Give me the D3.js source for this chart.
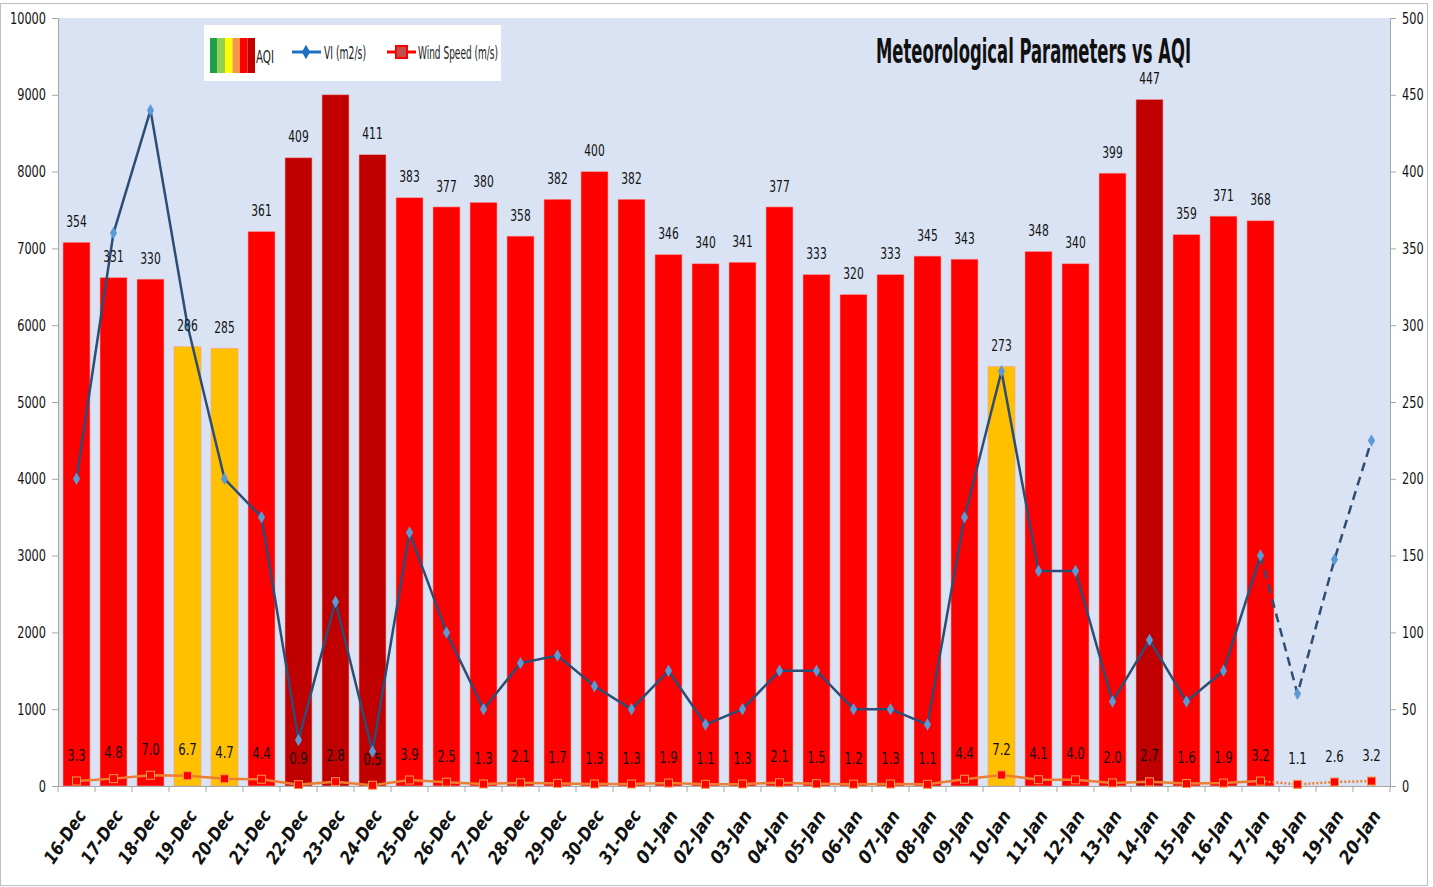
<!DOCTYPE html>
<html>
<head>
<meta charset="utf-8">
<script src="https://cdn.jsdelivr.net/npm/d3@7"></script>
<style>
  body { margin: 0; background: #fff; }
  svg text { font-family: "Liberation Sans Narrow", "DejaVu Sans Condensed", "Open Sans", sans-serif; }
</style>
</head>
<body>
<div id="chart"></div>
<script>
// dates on the x axis
var dates = ["16-Dec","17-Dec","18-Dec","19-Dec","20-Dec","21-Dec","22-Dec","23-Dec","24-Dec","25-Dec",
  "26-Dec","27-Dec","28-Dec","29-Dec","30-Dec","31-Dec","01-Jan","02-Jan","03-Jan","04-Jan",
  "05-Jan","06-Jan","07-Jan","08-Jan","09-Jan","10-Jan","11-Jan","12-Jan","13-Jan","14-Jan",
  "15-Jan","16-Jan","17-Jan","18-Jan","19-Jan","20-Jan"];

// AQI (right axis), only up to 17-Jan
var aqi = [354,331,330,286,285,361,409,450,411,383,377,380,358,382,400,382,346,340,341,377,
  333,320,333,345,343,273,348,340,399,447,359,371,368];

// ventilation index (left axis)
var vi = [4000,7200,8800,6000,4000,3500,600,2400,450,3300,2000,1000,1600,1700,1300,1000,1500,800,1000,1500,
  1500,1000,1000,800,3500,5400,2800,2800,1100,1900,1100,1500,3000,1200,2950,4500];

// wind speed m/s (right axis)
var wind = [3.3,4.8,7.0,6.7,4.7,4.4,0.9,2.8,0.5,3.9,2.5,1.3,2.1,1.7,1.3,1.3,1.9,1.1,1.3,2.1,
  1.5,1.2,1.3,1.1,4.4,7.2,4.1,4.0,2.0,2.7,1.6,1.9,3.2,1.1,2.6,3.2];

var leftTicks = d3.range(0, 10001, 1000);
var rightTicks = d3.range(0, 501, 50);
var lastObserved = 32; // index of 17-Jan, after that forecast (dashed)

var legendColors = ["#1FA046", "#92D050", "#FFFF00", "#F79646", "#FF0000", "#C00000"];

(function () {
  var W = 1433, H = 887;
  var pL = 58, pR = 1390, pT = 18, pB = 786;

  var svg = d3.select("#chart").append("svg")
    .attr("width", W).attr("height", H);

  // squeeze text to look like a narrow font
  function narrow(sel, perChar) {
    sel.each(function() {
      var t = d3.select(this);
      t.attr("textLength", t.text().length * perChar).attr("lengthAdjust", "spacingAndGlyphs");
    });
  }

  svg.append("rect").attr("x", 0.5).attr("y", 3.5).attr("width", 1427).attr("height", 882)
    .attr("fill", "#fff").attr("stroke", "#BFBFBF");

  svg.append("rect").attr("x", pL).attr("y", pT).attr("width", pR - pL).attr("height", pB - pT)
    .attr("fill", "#DAE3F3");

  var x = d3.scaleBand().domain(dates).range([pL, pR]).paddingInner(0.27).paddingOuter(0.135);
  var step = (pR - pL) / dates.length;
  var yL = d3.scaleLinear().domain([0, 10000]).range([pB, pT]);
  var yR = d3.scaleLinear().domain([0, 500]).range([pB, pT]);
  function cx(d) { return x(d) + x.bandwidth() / 2; }

  function aqiColor(v) {
    if (v > 400) return "#C00000";
    if (v > 300) return "#FF0000";
    if (v > 200) return "#FFC000";
    return "#92D050";
  }

  // bars
  svg.selectAll(".bar").data(aqi).enter().append("rect")
    .attr("x", function(d, i) { return x(dates[i]); })
    .attr("y", function(d) { return yR(d); })
    .attr("width", x.bandwidth())
    .attr("height", function(d) { return pB - yR(d); })
    .attr("fill", function(d) { return aqiColor(d); })
    .attr("stroke", "#F4A0A0").attr("stroke-width", 0.6);

  // axes
  var axL = svg.append("g").attr("transform", "translate(" + pL + ",0)")
    .call(d3.axisLeft(yL).tickValues(leftTicks).tickSize(6).tickPadding(6).tickFormat(d3.format("d")));
  var axR = svg.append("g").attr("transform", "translate(" + pR + ",0)")
    .call(d3.axisRight(yR).tickValues(rightTicks).tickSize(6).tickPadding(6).tickFormat(d3.format("d")));
  [axL, axR].forEach(function(a) {
    a.select(".domain").attr("stroke", "#A6A6A6");
    a.selectAll(".tick line").attr("stroke", "#A6A6A6");
    a.selectAll("text").attr("font-size", 16).attr("fill", "#111")
      .style("font-family", "\"Liberation Sans Narrow\", \"DejaVu Sans Condensed\", sans-serif")
      .call(narrow, 7.2);
  });

  var axB = svg.append("g").attr("transform", "translate(0," + pB + ")")
    .call(d3.axisBottom(x).tickSize(0).tickFormat(""));
  axB.select(".domain").attr("stroke", "#A6A6A6");
  svg.selectAll(".xtick").data(d3.range(dates.length + 1)).enter().append("line")
    .attr("x1", function(i) { return pL + i * step; })
    .attr("x2", function(i) { return pL + i * step; })
    .attr("y1", pB).attr("y2", pB + 6)
    .attr("stroke", "#A6A6A6");

  svg.selectAll(".xlbl").data(dates).enter().append("text")
    .attr("transform", function(d) { return "translate(" + (cx(d) + 5) + "," + (pB + 26) + ") rotate(-56)"; })
    .attr("text-anchor", "end")
    .attr("dy", "0.35em")
    .attr("font-size", 18).attr("font-weight", "bold").attr("font-style", "italic").attr("fill", "#111")
    .text(function(d) { return d; })
    .call(narrow, 10);

  // wind speed line
  var windPts = wind.map(function(v, i) { return [cx(dates[i]), yR(v)]; });
  var line = d3.line();
  svg.append("path").attr("d", line(windPts.slice(0, lastObserved + 1)))
    .attr("fill", "none").attr("stroke", "#ED7D31").attr("stroke-width", 2.5);
  svg.append("path").attr("d", line(windPts.slice(lastObserved)))
    .attr("fill", "none").attr("stroke", "#ED7D31").attr("stroke-width", 2.5).attr("stroke-dasharray", "2,2");
  svg.selectAll(".wm").data(windPts).enter().append("rect")
    .attr("x", function(p) { return p[0] - 4; }).attr("y", function(p) { return p[1] - 4; })
    .attr("width", 8).attr("height", 8)
    .attr("fill", "#FF0000").attr("stroke", "#F79646").attr("stroke-width", 1);

  // VI line
  var viPts = vi.map(function(v, i) { return [cx(dates[i]), yL(v)]; });
  svg.append("path").attr("d", line(viPts.slice(0, lastObserved + 1)))
    .attr("fill", "none").attr("stroke", "#2C4D75").attr("stroke-width", 2.5).attr("stroke-linejoin", "round");
  svg.append("path").attr("d", line(viPts.slice(lastObserved)))
    .attr("fill", "none").attr("stroke", "#2C4D75").attr("stroke-width", 2.5).attr("stroke-dasharray", "9,6");
  svg.selectAll(".vm").data(viPts).enter().append("path")
    .attr("d", d3.symbol().type(d3.symbolDiamond).size(45))
    .attr("transform", function(p) { return "translate(" + p[0] + "," + p[1] + ")"; })
    .attr("fill", "#5B9BD5");

  // data labels on top
  svg.selectAll(".aqilbl").data(aqi).enter().append("text")
    .attr("x", function(d, i) { return cx(dates[i]); })
    .attr("y", function(d) { return yR(d) - 21; })
    .attr("text-anchor", "middle").attr("dy", "0.35em")
    .attr("font-size", 16).attr("fill", "#111")
    .text(function(d) { return d; })
    .call(narrow, 6.8);

  svg.selectAll(".wl").data(wind).enter().append("text")
    .attr("x", function(d, i) { return cx(dates[i]); })
    .attr("y", function(d) { return yR(d) - 26; })
    .attr("text-anchor", "middle").attr("dy", "0.35em")
    .attr("font-size", 16).attr("fill", "#111")
    .text(function(d) { return d.toFixed(1); })
    .call(narrow, 6.2);

  // legend
  var lg = svg.append("g").attr("transform", "translate(204,25)");
  lg.append("rect").attr("width", 297).attr("height", 56).attr("fill", "#fff");
  legendColors.forEach(function(c, i) {
    lg.append("rect").attr("x", 6 + i * 7.5).attr("y", 13).attr("width", 7.5).attr("height", 35).attr("fill", c);
  });
  lg.append("text").attr("x", 52).attr("y", 38).attr("font-size", 17).attr("fill", "#222")
    .attr("textLength", 18).attr("lengthAdjust", "spacingAndGlyphs").text("AQI");
  lg.append("line").attr("x1", 88).attr("x2", 117).attr("y1", 27).attr("y2", 27).attr("stroke", "#1F6FC0").attr("stroke-width", 3);
  lg.append("path").attr("d", d3.symbol().type(d3.symbolDiamond).size(60)).attr("transform", "translate(102,27)").attr("fill", "#1F6FC0");
  lg.append("text").attr("x", 120).attr("y", 34).attr("font-size", 17).attr("fill", "#222")
    .attr("textLength", 42).attr("lengthAdjust", "spacingAndGlyphs").text("VI (m2/s)");
  lg.append("line").attr("x1", 183).attr("x2", 212).attr("y1", 27).attr("y2", 27).attr("stroke", "#FF0000").attr("stroke-width", 3);
  lg.append("rect").attr("x", 192).attr("y", 21).attr("width", 11).attr("height", 12).attr("fill", "#C0504D").attr("stroke", "#FF0000").attr("stroke-width", 2);
  lg.append("text").attr("x", 214).attr("y", 34).attr("font-size", 17).attr("fill", "#222")
    .attr("textLength", 80).attr("lengthAdjust", "spacingAndGlyphs").text("Wind Speed (m/s)");

  // title
  svg.append("text").attr("x", 876).attr("y", 63)
    .attr("font-size", 33).attr("font-weight", "bold").attr("fill", "#111")
    .attr("textLength", 315).attr("lengthAdjust", "spacingAndGlyphs")
    .text("Meteorological Parameters vs AQI");
})();
</script>
</body>
</html>
